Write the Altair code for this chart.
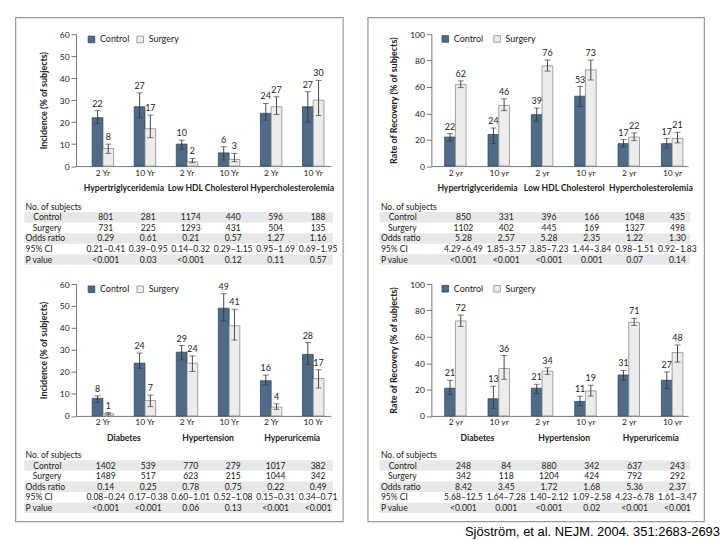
import altair as alt
import pandas as pd

FONT = "Lato"
CITE_FONT = "Liberation Sans"
INK = "#222222"
AXIS_INK = "#555555"
CTRL_FILL = "#506b87"
CTRL_EDGE = "#34485c"
SURG_FILL = "#ececec"
SURG_EDGE = "#8c8c8c"
WHISKER = "#333333"
ROW_SHADE = "#e8e8e8"
FRAME = "#9a9a9a"

ARMS = ["Control", "Surgery"]
ROW_LABELS = ["No. of subjects", "Control", "Surgery", "Odds ratio", "95% CI", "P value"]
SHADED_ROWS = ["Control", "Odds ratio", "P value"]
INDENTED_ROWS = ["Control", "Surgery"]

incidence_ticks = [0, 10, 20, 30, 40, 50, 60]
recovery_ticks = [0, 20, 40, 60, 80, 100]
incidence_title = "Incidence (% of subjects)"
recovery_title = "Rate of Recovery (% of subjects)"
citation = "Sjöström, et al. NEJM. 2004. 351:2683-2693"

# --- Lipid disorders -------------------------------------------------------
lipid_diseases = ["Hypertriglyceridemia", "Low HDL Cholesterol", "Hypercholesterolemia"]

# incidence
a_times = ["2 Yr", "10 Yr"]
a_control = [22, 27, 10, 6, 24, 27]
a_control_lo = [19.4, 22.0, 7.7, 2.7, 20.9, 20.0]
a_control_hi = [25.2, 33.3, 11.8, 8.8, 28.5, 33.8]
a_surgery = [8, 17, 2, 3, 27, 30]
a_surgery_lo = [5.8, 12.9, 1.5, 2.0, 23.5, 23.0]
a_surgery_hi = [10.0, 23.2, 3.5, 5.8, 31.5, 39.0]
a_n_control = ["801", "281", "1174", "440", "596", "188"]
a_n_surgery = ["731", "225", "1293", "431", "504", "135"]
a_odds = ["0.29", "0.61", "0.21", "0.57", "1.27", "1.16"]
a_ci = ["0.21–0.41", "0.39–0.95", "0.14–0.32", "0.29–1.15", "0.95–1.69", "0.69–1.95"]
a_p = ["<0.001", "0.03", "<0.001", "0.12", "0.11", "0.57"]

# recovery
b_times = ["2 yr", "10 yr"]
b_control = [22, 24, 39, 53, 17, 17]
b_control_lo = [18.8, 17.0, 34.0, 45.2, 14.6, 13.8]
b_control_hi = [24.6, 28.9, 44.0, 60.3, 20.1, 20.9]
b_surgery = [62, 46, 76, 73, 22, 21]
b_surgery_lo = [59.5, 42.0, 72.0, 65.3, 19.3, 17.6]
b_surgery_hi = [64.6, 51.0, 80.4, 80.4, 25.1, 25.6]
b_n_control = ["850", "331", "396", "166", "1048", "435"]
b_n_surgery = ["1102", "402", "445", "169", "1327", "498"]
b_odds = ["5.28", "2.57", "5.28", "2.35", "1.22", "1.30"]
b_ci = ["4.29–6.49", "1.85–3.57", "3.85–7.23", "1.44–3.84", "0.98–1.51", "0.92–1.83"]
b_p = ["<0.001", "<0.001", "<0.001", "0.001", "0.07", "0.14"]

# --- Diabetes, hypertension, hyperuricemia ---------------------------------
metabolic_diseases = ["Diabetes", "Hypertension", "Hyperuricemia"]

# incidence
c_times = ["2 Yr", "10 Yr"]
c_control = [8, 24, 29, 49, 16, 28]
c_control_lo = [6.1, 21.7, 25.5, 43.2, 14.1, 23.5]
c_control_hi = [9.1, 28.6, 32.0, 55.6, 18.6, 33.3]
c_surgery = [1, 7, 24, 41, 4, 17]
c_surgery_lo = [0.5, 4.2, 20.2, 34.5, 3.0, 12.7]
c_surgery_hi = [1.5, 9.5, 27.3, 48.5, 5.5, 21.0]
c_n_control = ["1402", "539", "770", "279", "1017", "382"]
c_n_surgery = ["1489", "517", "623", "215", "1044", "342"]
c_odds = ["0.14", "0.25", "0.78", "0.75", "0.22", "0.49"]
c_ci = ["0.08–0.24", "0.17–0.38", "0.60–1.01", "0.52–1.08", "0.15–0.31", "0.34–0.71"]
c_p = ["<0.001", "<0.001", "0.06", "0.13", "<0.001", "<0.001"]

# recovery
d_times = ["2 yr", "10 yr"]
d_control = [21, 13, 21, 11, 31, 27]
d_control_lo = [16.3, 5.8, 17.0, 7.8, 27.0, 20.8]
d_control_hi = [27.0, 22.5, 24.0, 15.0, 34.5, 33.3]
d_surgery = [72, 36, 34, 19, 71, 48]
d_surgery_lo = [67.8, 27.8, 31.5, 15.0, 68.5, 40.8]
d_surgery_hi = [76.5, 45.8, 36.5, 23.3, 74.0, 53.8]
d_n_control = ["248", "84", "880", "342", "637", "243"]
d_n_surgery = ["342", "118", "1204", "424", "792", "292"]
d_odds = ["8.42", "3.45", "1.72", "1.68", "5.36", "2.37"]
d_ci = ["5.68–12.5", "1.64–7.28", "1.40–2.12", "1.09–2.58", "4.23–6.78", "1.61–3.47"]
d_p = ["<0.001", "0.001", "<0.001", "0.02", "<0.001", "<0.001"]

# --- geometry ----------------------------------------------------------------
# columns: plot width and band-scale settings for the six time points
LEFT = dict(width=256, pin=0.49, pout=0.274, align=0.70,
            legend_x=11, legend_y=0.5, legend_gap=5,
            frame=(-60.7, 268.3, -16.6, 489.7))
RIGHT = dict(width=258, pin=0.486, pout=0.205, align=0.749,
             legend_x=9.5, legend_y=0, legend_gap=8,
             frame=(-63.7, 274.3, -16.6, 489.7))
# rows of the grid: bar panels and the tables beneath them
BAR_H = 132.5
ROW_STEP = 10.6
TOP_TABLE = dict(height=117.2, first=35.1)
BOTTOM_TABLE = dict(height=97.1, first=33.5)
COLUMN_GAP = 101
TABLE_FONT = 8.6
GROUP_FONT = 8.6


def keys_for(diseases, times):
    return [f"{d}|{t}" for d in diseases for t in times]


def x_scale(keys, geo):
    return alt.Scale(domain=keys, paddingInner=geo["pin"], paddingOuter=geo["pout"],
                     align=geo["align"], round=False)


def frame_layer(geo):
    x0, x1, y0, y1 = geo["frame"]
    return alt.Chart(pd.DataFrame({"frame": [0]})).mark_rect(
        fill="white", fillOpacity=0, stroke=FRAME, strokeWidth=1.2
    ).encode(x=alt.value(x0), x2=alt.value(x1), y=alt.value(y0), y2=alt.value(y1))


def bar_chart(diseases, times, ctrl, ctrl_lo, ctrl_hi, surg, surg_lo, surg_hi,
              ticks, ytitle, geo, framed=False):
    keys = keys_for(diseases, times)
    df = pd.DataFrame({
        "key": keys * 2,
        "arm": ["Control"] * len(keys) + ["Surgery"] * len(keys),
        "value": ctrl + surg,
        "lo": ctrl_lo + surg_lo,
        "hi": ctrl_hi + surg_hi,
    })
    x_axis = alt.Axis(title=None, labelExpr="split(datum.value, '|')[1]", labelAngle=0,
                      ticks=False, labelPadding=2, domainWidth=0.8)
    X = alt.X("key:N", scale=x_scale(keys, geo), sort=keys, axis=x_axis)
    XO = alt.XOffset("arm:N", scale=alt.Scale(domain=ARMS, paddingInner=0, paddingOuter=0))
    ys = alt.Scale(domain=[ticks[0], ticks[-1]], nice=False)
    y_axis = alt.Axis(title=ytitle, values=ticks, tickSize=5, labelPadding=2,
                      titlePadding=11, domainWidth=0.8, tickWidth=0.8)

    def Y(field):
        return alt.Y(f"{field}:Q", scale=ys, axis=y_axis)

    legend = alt.Legend(title=None, orient="none", legendX=geo["legend_x"],
                        legendY=geo["legend_y"], direction="horizontal",
                        symbolType="square", symbolSize=44, symbolStrokeWidth=0.8,
                        labelFontSize=9, labelOffset=4, columnPadding=geo["legend_gap"],
                        padding=0)

    base = alt.Chart(df)
    bars = base.mark_bar(strokeWidth=0.8).encode(
        x=X, xOffset=XO, y=Y("value"),
        fill=alt.Fill("arm:N", scale=alt.Scale(domain=ARMS, range=[CTRL_FILL, SURG_FILL]),
                      legend=legend),
        stroke=alt.Stroke("arm:N", scale=alt.Scale(domain=ARMS, range=[CTRL_EDGE, SURG_EDGE]),
                          legend=legend),
    )
    whisk = base.mark_rule(color=WHISKER, strokeWidth=0.9).encode(
        x=X, xOffset=XO, y=Y("lo"), y2=alt.Y2("hi:Q"))
    cap_hi = base.mark_tick(color=WHISKER, size=6, thickness=0.9, orient="horizontal").encode(
        x=X, xOffset=XO, y=Y("hi"))
    cap_lo = base.mark_tick(color=WHISKER, size=6, thickness=0.9, orient="horizontal").encode(
        x=X, xOffset=XO, y=Y("lo"))
    labels = base.mark_text(dy=-2, baseline="bottom", fontSize=9, color=INK).encode(
        x=X, xOffset=XO, y=Y("hi"), text="value:Q")

    step = geo["width"] / (len(keys) - geo["pin"] + 2 * geo["pout"])
    names_df = pd.DataFrame({"key": [f"{d}|{times[0]}" for d in diseases], "name": diseases})
    names = alt.Chart(names_df).mark_text(
        dx=step / 2, fontWeight="bold", fontSize=GROUP_FONT, color=INK
    ).encode(x=X, y=alt.value(BAR_H + 22.5), text="name:N")

    layers = [bars, whisk, cap_hi, cap_lo, labels, names]
    if framed:
        layers = [frame_layer(geo)] + layers
    return alt.layer(*layers).properties(width=geo["width"], height=BAR_H)


def table_chart(diseases, times, n_ctrl, n_surg, odds, ci, p, geo, rows, cite=False):
    keys = keys_for(diseases, times)
    cells = []
    for row, vals in [("Control", n_ctrl), ("Surgery", n_surg), ("Odds ratio", odds),
                      ("95% CI", ci), ("P value", p)]:
        for k, v in zip(keys, vals):
            cells.append({"key": k, "row": row, "text": v})
    df = pd.DataFrame(cells)
    top = rows["first"]
    ys = alt.Scale(domain=ROW_LABELS, paddingInner=0, paddingOuter=0,
                   range=[top, top + ROW_STEP * len(ROW_LABELS)], round=False)
    Y = alt.Y("row:N", scale=ys, axis=None)
    X = alt.X("key:N", scale=x_scale(keys, geo), sort=keys, axis=None)

    shade = alt.Chart(pd.DataFrame({"row": SHADED_ROWS})).mark_rect(color=ROW_SHADE).encode(
        y=Y, x=alt.value(-52), x2=alt.value(geo["width"] + 2))
    values = alt.Chart(df).mark_text(fontSize=TABLE_FONT, color=INK).encode(
        x=X, y=Y, text="text:N")
    heads = alt.Chart(pd.DataFrame({"row": [r for r in ROW_LABELS if r not in INDENTED_ROWS]})
                      ).mark_text(align="left", fontSize=TABLE_FONT, color=INK).encode(
        x=alt.value(-50.7), y=Y, text="row:N")
    indents = alt.Chart(pd.DataFrame({"row": INDENTED_ROWS})).mark_text(
        align="right", fontSize=TABLE_FONT, color=INK).encode(
        x=alt.value(-14.7), y=Y, text="row:N")
    layers = [shade, values, heads, indents]
    if cite:
        layers.append(alt.Chart(pd.DataFrame({"cite": [citation]})).mark_text(
            align="right", baseline="alphabetic", font=CITE_FONT, fontSize=13, color="#000000"
        ).encode(x=alt.value(290), y=alt.value(120.5), text="cite:N"))
    return alt.layer(*layers).properties(width=geo["width"], height=rows["height"])


cells = [
    # row 1: bar panels, lipid disorders
    bar_chart(lipid_diseases, a_times, a_control, a_control_lo, a_control_hi,
              a_surgery, a_surgery_lo, a_surgery_hi, incidence_ticks, incidence_title,
              LEFT, framed=True),
    bar_chart(lipid_diseases, b_times, b_control, b_control_lo, b_control_hi,
              b_surgery, b_surgery_lo, b_surgery_hi, recovery_ticks, recovery_title,
              RIGHT, framed=True),
    # row 2: their tables
    table_chart(lipid_diseases, a_times, a_n_control, a_n_surgery, a_odds, a_ci, a_p,
                LEFT, TOP_TABLE),
    table_chart(lipid_diseases, b_times, b_n_control, b_n_surgery, b_odds, b_ci, b_p,
                RIGHT, TOP_TABLE),
    # row 3: bar panels, diabetes / hypertension / hyperuricemia
    bar_chart(metabolic_diseases, c_times, c_control, c_control_lo, c_control_hi,
              c_surgery, c_surgery_lo, c_surgery_hi, incidence_ticks, incidence_title, LEFT),
    bar_chart(metabolic_diseases, d_times, d_control, d_control_lo, d_control_hi,
              d_surgery, d_surgery_lo, d_surgery_hi, recovery_ticks, recovery_title, RIGHT),
    # row 4: their tables
    table_chart(metabolic_diseases, c_times, c_n_control, c_n_surgery, c_odds, c_ci, c_p,
                LEFT, BOTTOM_TABLE),
    table_chart(metabolic_diseases, d_times, d_n_control, d_n_surgery, d_odds, d_ci, d_p,
                RIGHT, BOTTOM_TABLE, cite=True),
]

chart = alt.concat(
    *cells, columns=2, spacing={"row": 0, "column": COLUMN_GAP}, bounds="flush"
).resolve_scale(
    x="independent", y="independent", fill="independent", stroke="independent"
).resolve_legend(
    fill="independent", stroke="independent"
).properties(
    padding={"left": 14.4, "top": 15.1, "right": 0, "bottom": 0}
).configure(font=FONT).configure_view(strokeWidth=0).configure_axis(
    labelFontSize=8.5, labelColor=INK, titleColor=INK, titleFontSize=9,
    titleFontWeight="bold", domainColor=AXIS_INK, tickColor=AXIS_INK, grid=False
).configure_legend(labelColor=INK)

chart.save("out.html", embed_options={"renderer": "svg", "actions": False})
